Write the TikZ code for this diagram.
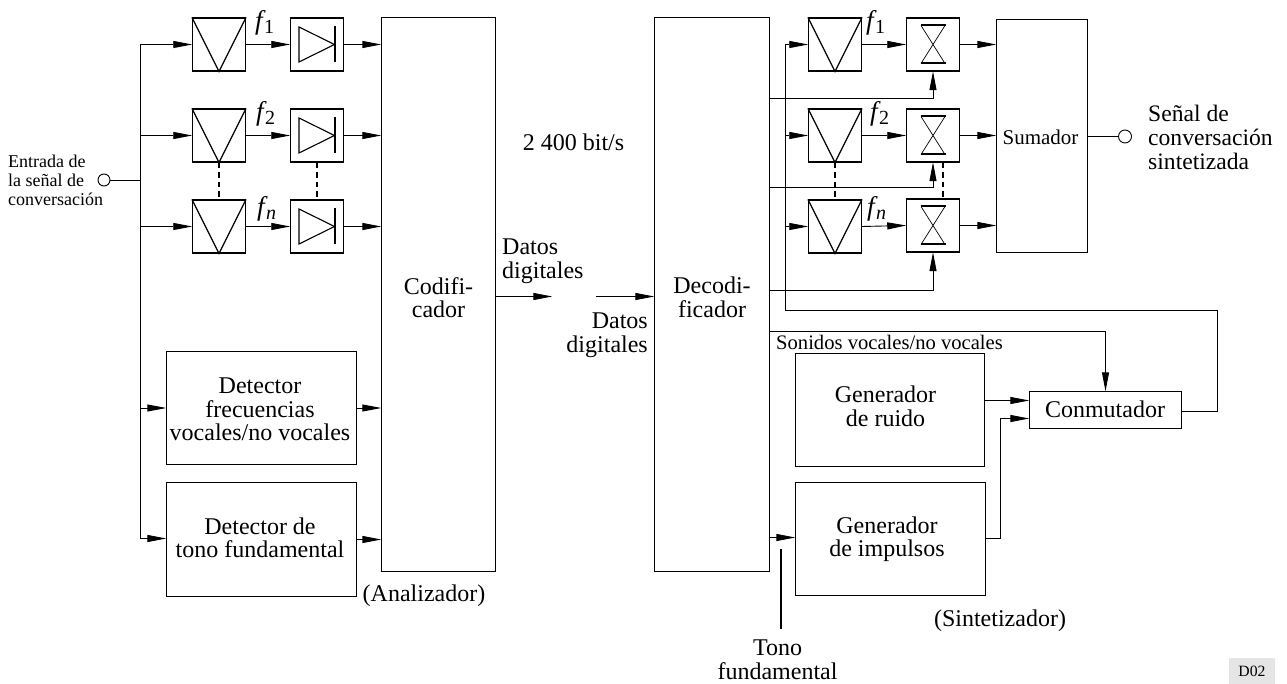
\documentclass[tikz,border=0pt]{standalone}
\usepackage{fontspec}
\setmainfont{Liberation Serif}
\usetikzlibrary{arrows.meta}
\newcommand{\bigf}{\fontsize{24}{23.5}\selectfont}
\newcommand{\fsub}[1]{{\fontsize{27}{27}\selectfont\itshape f}\kern1.5pt\raisebox{-4pt}{\fontsize{20}{20}\selectfont #1}}
\tikzset{
  blk/.style={draw,line width=1pt,inner sep=0pt,align=center,font=\bigf},
  bx/.style={draw,line width=1.1pt,minimum width=53pt,minimum height=53pt,inner sep=0pt},
  wire/.style={line width=.9pt},
  arr/.style={wire,-{Triangle[length=19pt,width=7pt]},shorten >=-.3pt},
  dashedlink/.style={line width=1.6pt,dash pattern=on 5.5pt off 4pt},
  txt/.style={inner sep=0pt,align=center,font=\bigf},
  txts/.style={inner sep=0pt,align=left,font=\fontsize{18}{19}\selectfont},
  flab/.style={inner sep=0pt,anchor=base west},
  port/.style={circle,draw,line width=.9pt,inner sep=0pt},
}
\begin{document}
\begin{tikzpicture}[x=1pt,y=-1pt]
\useasboundingbox (0,0) rectangle (1287,684);
% big blocks
\node[blk,minimum width=114pt,minimum height=554pt,label={[name=codt,txt,yshift=-3pt]center:{Codifi-\\cador}}] (cod) at (438.5,294.5) {};
\node[blk,minimum width=115pt,minimum height=554pt,label={[name=dect,txt,yshift=-3pt]center:{Decodi-\\ficador}}] (dec) at (712,294.5) {};
\node[blk,minimum width=190pt,minimum height=113pt,label={[name=det1t,txt,xshift=-1.5pt,yshift=-1.5pt]center:{Detector\\frecuencias\\vocales/no vocales}}] (det1) at (261.5,408) {};
\node[blk,minimum width=190pt,minimum height=114pt,label={[name=det2t,txt,xshift=-1.5pt,yshift=1.5pt]center:{Detector de\\tono fundamental}}] (det2) at (261.5,539.5) {};
\node[blk,minimum width=91pt,minimum height=233pt,label={[name=sumt,font=\fontsize{21}{24}\selectfont,inner sep=0pt,xshift=-1.5pt,yshift=-1.5pt]center:Sumador}] (sum) at (1042,136) {};
\node[blk,minimum width=152pt,minimum height=37pt,label={[name=conmt,txt,xshift=-.5pt,yshift=.5pt]center:Conmutador}] (conm) at (1105.5,410) {};
\node[blk,minimum width=189pt,minimum height=113pt,label={[name=ruidot,txt,xshift=-4.5pt,yshift=3.5pt]center:{Generador\\de ruido}}] (ruido) at (890,410) {};
\node[blk,minimum width=190pt,minimum height=113pt,label={[name=impt,txt,xshift=-3.5pt]center:{Generador\\de impulsos}}] (imp) at (890.5,539) {};
% filter and detector boxes, left
\foreach \n/\y in {a/44.5,b/135.5,c/226.5}{
  \node[bx] (amp\n) at (219,\y) {};
  \draw[line width=1.2pt] (amp\n.north west) -- (amp\n.south) -- (amp\n.north east);
  \node[bx] (dio\n) at (317,\y) {};
  \draw[line width=1.1pt,shift={(dio\n.center)}] (-18,-17.5) -- (17.5,0) -- (-18,17.5) -- cycle;
  \draw[line width=2pt,shift={(dio\n.center)}] (18,-18) -- (18,18);
}
% filter and modulator boxes, right
\foreach \n/\y/\z in {a/44.5/44.5,b/135.5/135.5,c/226.5/225.5}{
  \node[bx] (ramp\n) at (835,\y) {};
  \draw[line width=1.2pt] (ramp\n.north west) -- (ramp\n.south) -- (ramp\n.north east);
  \node[bx] (hg\n) at (933,\z) {};
  \draw[line width=.7pt,shift={(hg\n.center)}] (-12,-19) -- (12,19) (12,-19) -- (-12,19);
  \draw[line width=2pt,shift={(hg\n.center)}] (-12.5,-19) -- (12.5,-19) (-12.5,19) -- (12.5,19);
}
% ports
\node[port,minimum size=12pt] (in) at (104,180) {};
\node[port,minimum size=13pt] (out) at (1125,136.5) {};
% left bus
\coordinate (lt) at (140.5,44.5);
\coordinate (lb) at (140.5,538.5);
\draw[wire] (lt) -- (lb);
\draw[wire] (in.east) -- (in.east -| lt);
\foreach \n in {a,b,c}{
  \draw[arr] (amp\n.west -| lt) -- (amp\n.west);
  \draw[arr] (amp\n.east) -- (dio\n.west);
  \draw[arr] (dio\n.east) -- (dio\n.east -| cod.west);
  \draw[arr] (ramp\n.east) -- (hg\n.west);
  \draw[arr] (hg\n.east) -- (hg\n.east -| sum.west);
}
\draw[arr] (det1.west -| lt) -- (det1.west);
\draw[arr] (lb) -- (lb -| det2.west);
\draw[arr] (det1.east) -- (det1.east -| cod.west);
\draw[arr] (det2.east) -- (det2.east -| cod.west);
\draw[dashedlink] (ampb.south) -- (ampc.north);
\draw[dashedlink] (diob.south) -- (dioc.north);
\draw[dashedlink] (rampb.south) -- (rampc.north);
\draw[dashedlink] ([xshift=10pt]hgb.south) -- ([xshift=10pt]hgc.north);
% data links
\coordinate (txa) at (552,296.5);
\coordinate (rxa) at (596,296.5);
\draw[arr] (cod.east |- txa) -- (txa);
\draw[arr] (rxa) -- (rxa -| dec.west);
% right bus
\coordinate (rt) at (785.5,44.5);
\coordinate (rb) at (785.5,310.5);
\coordinate (rc) at (1217.5,310.5);
\draw[wire] (conm.east |- 0,411.5) -- (rc |- 0,411.5) -- (rc) -- (rb) -- (rt);
\foreach \n in {a,b,c}{\draw[arr] (ramp\n.west -| rt) -- (ramp\n.west);}
% control lines
\draw[arr] (dec.east |- 0,98.5) -| (hga.south);
\draw[arr] (dec.east |- 0,187.5) -| (hgb.south);
\draw[arr] (dec.east |- 0,290.5) -| (hgc.south);
\draw[arr] (dec.east |- 0,331.5) -| (conm.north);
% generators
\draw[arr] (ruido.east |- 0,400.5) -- (conm.west |- 0,400.5);
\coordinate (el) at (1000.5,538.5);
\draw[arr] (imp.east |- el) -- (el) |- (conm.west |- 0,418.5);
\draw[arr] (dec.east |- 0,537.5) -- (imp.west |- 0,537.5);
\coordinate (t1) at (781,549);
\coordinate (t2) at (781,629);
\draw[line width=2pt] (t1) -- (t2);
\draw[wire] (sum.east |- out) -- (out.west);
% labels
\node[flab] (f1) at (255,30) {\fsub{1}};
\node[flab] (f2) at (256,121) {\fsub{2}};
\node[flab] (fn) at (257,216) {\fsub{\itshape n}};
\node[flab] (g1) at (866,30) {\fsub{1}};
\node[flab] (g2) at (870,121) {\fsub{2}};
\node[flab] (gn) at (867,216) {\fsub{\itshape n}};
\node[txts,anchor=west] (entrada) at (8,180) {Entrada de\\la señal de\\conversación};
\node[txt,anchor=west,align=left,font=\fontsize{23.6}{24}\selectfont] (senal) at (1148,137) {Señal de\\conversación\\sintetizada};
\node[txt] (rate) at (573.5,142) {2 400 bit/s};
\node[txt,anchor=west,align=left] (dd1) at (502,261) {Datos\\digitales};
\node[txt,anchor=east,align=right] (dd2) at (648,335) {Datos\\digitales};
\node[inner sep=0pt,anchor=base west,font=\fontsize{20.6}{24}\selectfont] (son) at (776,349) {Sonidos vocales/no vocales};
\node[txt] (ana) at (424,596) {(Analizador)};
\node[txt] (sin) at (1000,621) {(Sintetizador)};
\node[txt] (tono) at (777.5,660) {Tono\\fundamental};
\node[fill=black!10,inner sep=0pt,minimum width=46pt,minimum height=26pt,font=\fontsize{15.7}{16}\selectfont] (d02) at (1252,671) {D02};
\end{tikzpicture}
\end{document}
